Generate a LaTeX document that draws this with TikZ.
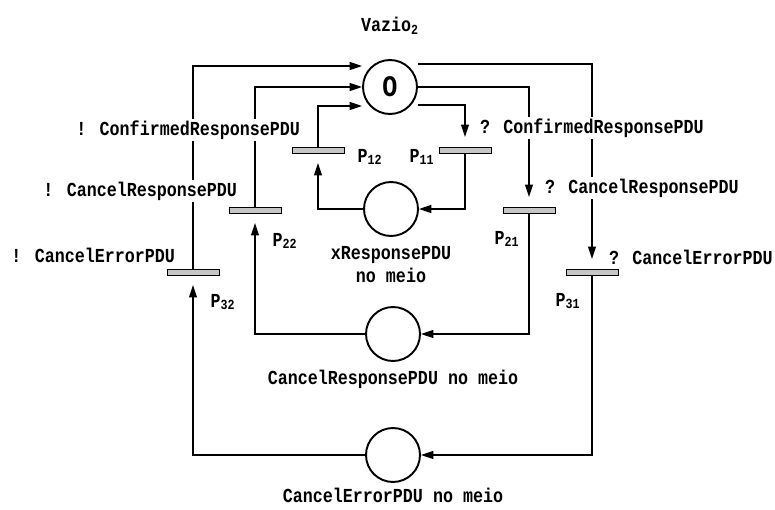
\documentclass[tikz,border=0pt]{standalone}
\usepackage{fontspec}
\newfontfamily\dotfont[FakeStretch=0.84]{Liberation Mono}
\usetikzlibrary{arrows.meta,positioning,calc}

\tikzset{
  place/.style={draw, circle, line width=1.1pt, minimum size=1.08cm, inner sep=0pt},
  trans/.style={draw, rectangle, fill=gray!45, line width=0.5pt, minimum width=1.04cm, minimum height=0.12cm, inner sep=0pt},
  arc/.style={line width=0.7pt, -{Triangle[length=7pt,width=4.5pt]}},
  lbl/.style={font=\dotfont\bfseries\fontsize{11.3}{13}\selectfont, inner sep=1pt},
}

\begin{document}
\begin{tikzpicture}[x=0.02cm, y=-0.02cm]
\useasboundingbox (0,0) rectangle (775,510);
% places
\node (vazio) [place] at (390,87) {\dotfont\bfseries\fontsize{17}{17}\selectfont O};
\node (xresp) [place] at (391,209) {};
\node (cresp) [place] at (393,334) {};
\node (cerr) [place] at (393,455) {};
\node [lbl, above=0.45cm of vazio] {Vazio\textsubscript{2}};
\node [lbl, below=0.15cm of xresp, align=center] {xResponsePDU\\no meio};
\node [lbl, below=0.12cm of cresp] {CancelResponsePDU no meio};
\node [lbl, below=0.06cm of cerr] {CancelErrorPDU no meio};
% transitions
\node (p12) [trans] at (318,150) {};
\node (p11) [trans] at (465,150) {};
\node (p22) [trans] at (255,210) {};
\node (p21) [trans] at (529,210) {};
\node (p32) [trans] at (193,272) {};
\node (p31) [trans] at (592,272) {};
\node [lbl] at ($(p12)+(52,7)$) {P\textsubscript{12}};
\node [lbl] at ($(p11)+(-43,7)$) {P\textsubscript{11}};
\node [lbl] at ($(p22)+(30,31)$) {P\textsubscript{22}};
\node [lbl] at ($(p21)+(-22,29)$) {P\textsubscript{21}};
\node [lbl] at ($(p32)+(30,30)$) {P\textsubscript{32}};
\node [lbl] at ($(p31)+(-24,29)$) {P\textsubscript{31}};
% arcs
\draw [arc] (p32.north) |- ([yshift=0.42cm]vazio.west);
\draw [arc] (p22.north) |- (vazio.west);
\draw [arc] (p12.north) |- ([yshift=-0.38cm]vazio.west);
\draw [arc, shorten >=5.5pt] ([yshift=0.46cm]vazio.east) -| (p31.north);
\draw [arc, shorten >=5.5pt] (vazio.east) -| (p21.north);
\draw [arc, shorten >=5.5pt] ([yshift=-0.36cm]vazio.east) -| (p11.north);
\draw [arc] (p11.south) |- (xresp.east);
\draw [arc, shorten >=5.5pt] (xresp.west) -| (p12.south);
\draw [arc] (p21.south) |- (cresp.east);
\draw [arc, shorten >=5.5pt] (cresp.west) -| (p22.south);
\draw [arc] (p31.south) |- (cerr.east);
\draw [arc, shorten >=5.5pt] (cerr.west) -| (p32.south);
% send / receive labels, over the arcs
\node [lbl, fill=white, anchor=east] at ($(p12)+(-16,-20)$) {! ConfirmedResponsePDU};
\node [lbl, fill=white, anchor=east] at ($(p22)+(-16,-19)$) {! CancelResponsePDU};
\node [lbl, fill=white, anchor=east] at ($(p32)+(-16,-17)$) {! CancelErrorPDU};
\node [lbl, fill=white, anchor=west] at ($(p11)+(13,-22)$) {? ConfirmedResponsePDU};
\node [lbl, fill=white, anchor=west] at ($(p21)+(14,-22)$) {? CancelResponsePDU};
\node [lbl, fill=white, anchor=west] at ($(p31)+(15,-15)$) {? CancelErrorPDU};
\end{tikzpicture}
\end{document}
